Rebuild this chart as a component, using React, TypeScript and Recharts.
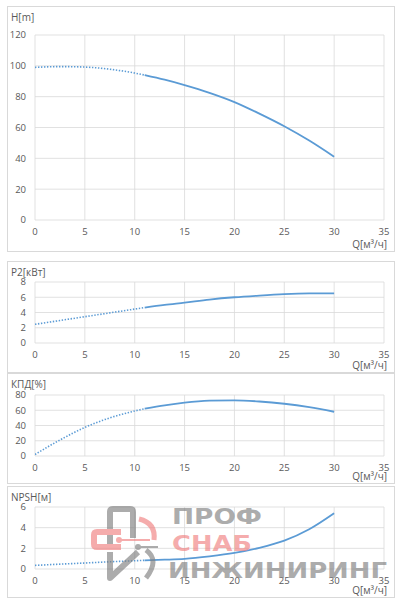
import React from 'react';
import { LineChart, Line, XAxis, YAxis, CartesianGrid } from 'recharts';

// Q, m3/h
const qDotted = [0, 2.5, 5, 7.5, 10, 11];
const qSolid = [11, 13, 15, 17.5, 20, 22.5, 25, 27.5, 30];
const qTicks = [0, 5, 10, 15, 20, 25, 30, 35];

// H, m
const headDotted = [99, 99.5, 99.2, 97.8, 95.3, 94];
const headSolid = [94, 91, 87.5, 82.5, 76.5, 69, 60.8, 51.5, 41];
const headTicks = [0, 20, 40, 60, 80, 100, 120];

// P2, kW
const powerDotted = [2.45, 2.95, 3.45, 3.95, 4.45, 4.65];
const powerSolid = [4.65, 5.0, 5.3, 5.7, 6.0, 6.22, 6.4, 6.5, 6.52];
const powerTicks = [0, 2, 4, 6, 8];

// efficiency, %
const effDotted = [2, 21, 37.5, 50, 59, 62];
const effSolid = [62, 66.5, 70, 72.5, 73, 71.5, 68.5, 64, 58];
const effTicks = [0, 20, 40, 60, 80];

// NPSH, m
const npshDotted = [0.35, 0.47, 0.58, 0.7, 0.8, 0.84];
const npshSolid = [0.84, 0.9, 0.98, 1.22, 1.55, 2.05, 2.75, 3.85, 5.4];
const npshTicks = [0, 2, 4, 6];

const BLUE = '#5b9bd5';
const GRID = '#d9d9d9';
const TEXT = '#595959';
const FONT = '"Open Sans", "Noto Sans", sans-serif';

const toRows = (xs: number[], ys: number[]) => xs.map((q, i) => ({ q, v: ys[i] }));

interface PanelProps {
  top: number;
  height: number;
  title: string;
  ticks: number[];
  dotted: number[];
  solid: number[];
  plotTop: number;
  plotBottom: number;
}

function Panel({ top, height, title, ticks, dotted, solid, plotTop, plotBottom }: PanelProps) {
  const width = 388;
  return (
    <div
      style={{
        position: 'absolute',
        left: 7,
        top,
        width,
        height,
        border: `1px solid ${GRID}`,
        boxSizing: 'border-box',
        background: '#fff',
        fontFamily: FONT,
      }}
    >
      <div style={{ position: 'absolute', left: 3, top: 3, fontSize: 10, color: TEXT }}>{title}</div>
      <div style={{ position: 'absolute', right: 7, bottom: 0, fontSize: 10, color: TEXT }}>Q[м³/ч]</div>
      <LineChart
        width={width - 2}
        height={height - 2}
        margin={{ top: plotTop, right: 10, bottom: 0, left: 0 }}
        style={{ position: 'absolute', left: 0, top: 0 }}
      >
        <CartesianGrid stroke={GRID} strokeWidth={0.8} />
        <XAxis
          type="number"
          dataKey="q"
          domain={[0, 35]}
          ticks={qTicks}
          allowDataOverflow
          height={plotBottom}
          axisLine={false}
          tickLine={false}
          tickSize={0}
          tickMargin={8}
          tick={{ fill: TEXT, fontSize: 9.5, fontFamily: FONT }}
          interval={0}
        />
        <YAxis
          type="number"
          domain={[ticks[0], ticks[ticks.length - 1]]}
          ticks={ticks}
          width={27}
          axisLine={false}
          tickLine={false}
          tickSize={0}
          tickMargin={9}
          tick={{ fill: TEXT, fontSize: 9.5, fontFamily: FONT }}
          interval={0}
        />
        <Line
          data={toRows(qDotted, dotted)}
          dataKey="v"
          type="monotone"
          stroke={BLUE}
          strokeWidth={1.6}
          strokeDasharray="1.4 1.6"
          dot={false}
          isAnimationActive={false}
        />
        <Line
          data={toRows(qSolid, solid)}
          dataKey="v"
          type="monotone"
          stroke={BLUE}
          strokeWidth={1.8}
          dot={false}
          isAnimationActive={false}
        />
      </LineChart>
    </div>
  );
}

function Watermark() {
  const grey = '#808080';
  const pink = '#f08080';
  return (
    <svg
      width={402}
      height={600}
      style={{ position: 'absolute', left: 0, top: 0, pointerEvents: 'none' }}
    >
      <g opacity={0.65} fill="none" strokeWidth={6} strokeLinejoin="round">
        <path d="M110 546 L110 512 Q110 509 113 509 L130 509 Q133 509 133 512 L133 538" stroke={grey} />
        <path d="M121 532 L97 532 Q94 532 94 535 L94 544 Q94 547 97 547 L121 547" stroke={pink} />
        <path d="M139 519 Q156 523 154 540" stroke={pink} strokeWidth={5} />
        <line x1={119} y1={540} x2={150} y2={540} stroke={pink} strokeWidth={2} />
        <circle cx={119} cy={540} r={3} fill={pink} stroke="none" />
        <path d="M110 552 L110 578 L138 552" stroke={grey} />
        <path d="M146 550 Q160 560 146 578" stroke={grey} strokeWidth={5} />
        <line x1={138} y1={547} x2={158} y2={547} stroke={grey} strokeWidth={2} />
        <circle cx={138} cy={547} r={3} fill={grey} stroke="none" />
        <g fontFamily='"DejaVu Sans", sans-serif' fontWeight="bold" stroke="none">
          <text x={172} y={524} fontSize={21} fill={grey} textLength={90} lengthAdjust="spacingAndGlyphs">ПРОФ</text>
          <text x={172} y={551} fontSize={21} fill={pink} textLength={80} lengthAdjust="spacingAndGlyphs">СНАБ</text>
          <text x={168} y={578} fontSize={21} fill={grey} textLength={219} lengthAdjust="spacingAndGlyphs">ИНЖИНИРИНГ</text>
        </g>
      </g>
    </svg>
  );
}

export default function App() {
  return (
    <div style={{ position: 'absolute', left: 0, top: 0, width: 402, height: 600, background: '#fff' }}>
      <Panel top={6} height={246} title="H[m]" ticks={headTicks} dotted={headDotted} solid={headSolid} plotTop={28} plotBottom={31} />
      <Panel top={261} height={112} title="P2[кВт]" ticks={powerTicks} dotted={powerDotted} solid={powerSolid} plotTop={20} plotBottom={29} />
      <Panel top={373} height={111} title="КПД[%]" ticks={effTicks} dotted={effDotted} solid={effSolid} plotTop={21} plotBottom={27} />
      <Panel top={486} height={112} title="NPSH[м]" ticks={npshTicks} dotted={npshDotted} solid={npshSolid} plotTop={20} plotBottom={28} />
      <Watermark />
    </div>
  );
}
